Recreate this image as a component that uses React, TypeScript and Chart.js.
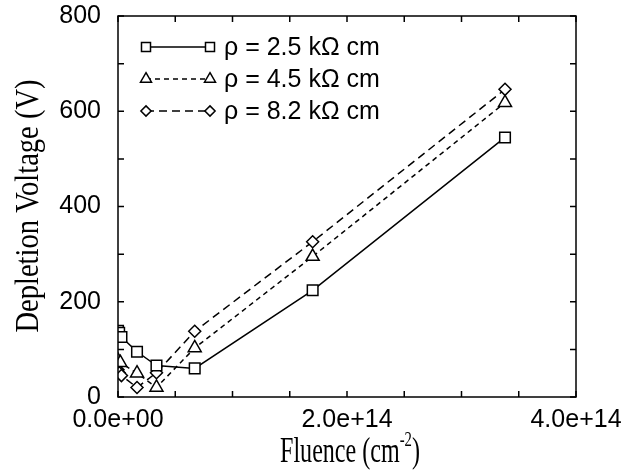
import React, { useEffect, useRef } from "react";
import { Chart, registerables } from "chart.js";

Chart.register(...registerables);

// ---- data ----
const fluenceA = [0, 1e12, 3e12, 1.66e13, 3.36e13, 6.7e13, 1.7e14, 3.38e14];
const voltA = [139, 135, 126, 95, 66, 60, 224, 545];
const fluenceB = [0, 2e12, 1.66e13, 3.36e13, 6.7e13, 1.7e14, 3.38e14];
const voltB = [77, 72, 50, 20, 103, 295, 618];
const fluenceC = [0, 1e12, 3e12, 1.66e13, 3.36e13, 6.7e13, 1.7e14, 3.38e14];
const voltC = [57, 51, 45, 20, 51, 138, 326, 646];

const seriesLabels = ["ρ = 2.5 kΩ cm", "ρ = 4.5 kΩ cm", "ρ = 8.2 kΩ cm"];
const xTickLabels = ["0.0e+00", "2.0e+14", "4.0e+14"];
const xMinorTicks = [0, 5e13, 1e14, 1.5e14, 2e14, 2.5e14, 3e14, 3.5e14, 4e14];
const yMinorTicks = [0, 100, 200, 300, 400, 500, 600, 700, 800];

const SANS = "'Liberation Sans', Arial, sans-serif";
const SERIF = "'Liberation Serif', 'Times New Roman', serif";

const toPts = (xs: number[], ys: number[]) => xs.map((x, i) => ({ x, y: ys[i] }));

function drawMarker(ctx: CanvasRenderingContext2D, kind: string, x: number, y: number, r: number) {
  ctx.beginPath();
  if (kind === "rect") {
    const s = r * Math.SQRT1_2;
    ctx.rect(x - s, y - s, 2 * s, 2 * s);
  } else if (kind === "triangle") {
    const w = r * Math.sqrt(3) / 2;
    ctx.moveTo(x, y - r);
    ctx.lineTo(x + w, y + r / 2);
    ctx.lineTo(x - w, y + r / 2);
    ctx.closePath();
  } else {
    ctx.moveTo(x, y - r);
    ctx.lineTo(x + r, y);
    ctx.lineTo(x, y + r);
    ctx.lineTo(x - r, y);
    ctx.closePath();
  }
  ctx.fillStyle = "#fff";
  ctx.fill();
  ctx.stroke();
}

const styles = [
  { marker: "rect", dash: [] as number[], r: 7.5 },
  { marker: "triangle", dash: [5, 4], r: 7.5 },
  { marker: "rectRot", dash: [8, 5], r: 6 },
];

const framePlugin = {
  id: "frame",
  afterDraw(chart: any) {
    const { ctx, chartArea: a, scales } = chart;
    const xs = scales.x, ys = scales.y;
    ctx.save();
    ctx.strokeStyle = "#000";
    ctx.lineWidth = 1.5;
    ctx.setLineDash([]);
    ctx.strokeRect(a.left, a.top, a.right - a.left, a.bottom - a.top);
    const tl = 6;
    ctx.beginPath();
    for (const v of yMinorTicks) {
      const py = ys.getPixelForValue(v);
      ctx.moveTo(a.left, py); ctx.lineTo(a.left + tl, py);
      ctx.moveTo(a.right, py); ctx.lineTo(a.right - tl, py);
    }
    for (const v of xMinorTicks) {
      const px = xs.getPixelForValue(v);
      ctx.moveTo(px, a.bottom); ctx.lineTo(px, a.bottom - tl);
      ctx.moveTo(px, a.top); ctx.lineTo(px, a.top + tl);
    }
    ctx.stroke();

    // legend
    const rows = [47, 79, 111];
    const x0 = 146, x1 = 210;
    ctx.lineWidth = 1.5;
    styles.forEach((s, i) => {
      const yy = rows[i];
      ctx.setLineDash(s.dash);
      ctx.beginPath();
      ctx.moveTo(x0, yy); ctx.lineTo(x1, yy);
      ctx.stroke();
      ctx.setLineDash([]);
      drawMarker(ctx, s.marker, x0, yy, s.r * 0.85);
      drawMarker(ctx, s.marker, x1, yy, s.r * 0.85);
      ctx.fillStyle = "#000";
      ctx.font = `25px ${SANS}`;
      ctx.textBaseline = "middle";
      ctx.textAlign = "left";
      ctx.fillText(seriesLabels[i], 224, yy + 1);
    });

    // x title
    ctx.fillStyle = "#000";
    ctx.textBaseline = "alphabetic";
    ctx.textAlign = "left";
    const main = "Fluence (cm";
    const sup = "-2";
    const close = ")";
    ctx.font = `36px ${SERIF}`;
    const wMain = ctx.measureText(main).width;
    const wClose = ctx.measureText(close).width;
    ctx.font = `22px ${SERIF}`;
    const wSup = ctx.measureText(sup).width;
    const total = wMain + wSup + wClose;
    const targetW = 140;
    const sx = targetW / total;
    ctx.save();
    ctx.translate(350 - targetW / 2, 462);
    ctx.scale(sx, 1);
    ctx.font = `36px ${SERIF}`;
    ctx.fillText(main, 0, 0);
    ctx.font = `22px ${SERIF}`;
    ctx.fillText(sup, wMain, -16);
    ctx.font = `36px ${SERIF}`;
    ctx.fillText(close, wMain + wSup, 0);
    ctx.restore();

    // y title
    const yt = "Depletion Voltage (V)";
    ctx.font = `34px ${SERIF}`;
    const wy = ctx.measureText(yt).width;
    const targetY = 253;
    ctx.save();
    ctx.translate(38, 206);
    ctx.rotate(-Math.PI / 2);
    ctx.scale(targetY / wy, 1);
    ctx.textAlign = "center";
    ctx.fillText(yt, 0, 0);
    ctx.restore();

    ctx.restore();
  },
};

const zeroPad = (s: any) => {
  s.paddingTop = 0;
  s.paddingBottom = 0;
  s.paddingLeft = 0;
  s.paddingRight = 0;
};

export default function App() {
  const ref = useRef<HTMLCanvasElement | null>(null);
  useEffect(() => {
    document.body.style.margin = "0";
    const canvas = ref.current!;
    const mk = (i: number, xs: number[], ys: number[]) => ({
      label: seriesLabels[i],
      data: toPts(xs, ys),
      showLine: true,
      borderColor: "#000",
      borderWidth: 1.5,
      borderDash: styles[i].dash,
      pointStyle: styles[i].marker,
      pointRadius: styles[i].r,
      pointHoverRadius: styles[i].r,
      pointBorderWidth: 1.5,
      pointBackgroundColor: "#fff",
      pointBorderColor: "#000",
      fill: false,
      tension: 0,
    });
    const chart = new Chart(canvas, {
      type: "scatter",
      data: {
        datasets: [mk(0, fluenceA, voltA), mk(1, fluenceB, voltB), mk(2, fluenceC, voltC)],
      },
      plugins: [framePlugin],
      options: {
        animation: false,
        responsive: false,
        maintainAspectRatio: false,
        layout: { padding: { left: 0, right: 48, top: 16, bottom: 0 } },
        plugins: { legend: { display: false }, tooltip: { enabled: false } },
        scales: {
          x: {
            type: "linear",
            min: 0,
            max: 4e14,
            grid: { display: false, drawTicks: false },
            border: { display: false },
            ticks: {
              stepSize: 2e14,
              autoSkip: false,
              maxRotation: 0,
              padding: 8,
              color: "#000",
              font: { family: SANS, size: 25 },
              callback: (_v: any, i: number) => xTickLabels[i],
            },
            afterFit: (s: any) => { s.height = 75; zeroPad(s); },
          },
          y: {
            min: 0,
            max: 800,
            grid: { display: false, drawTicks: false },
            border: { display: false },
            ticks: {
              stepSize: 200,
              padding: 17,
              color: "#000",
              font: { family: SANS, size: 25 },
            },
            afterFit: (s: any) => { s.width = 118; zeroPad(s); },
          },
        },
      },
    } as any);
    return () => chart.destroy();
  }, []);
  return (
    <div style={{ width: 624, height: 472, background: "#fff" }}>
      <canvas ref={ref} width={624} height={472} style={{ width: 624, height: 472, display: "block" }} />
    </div>
  );
}
